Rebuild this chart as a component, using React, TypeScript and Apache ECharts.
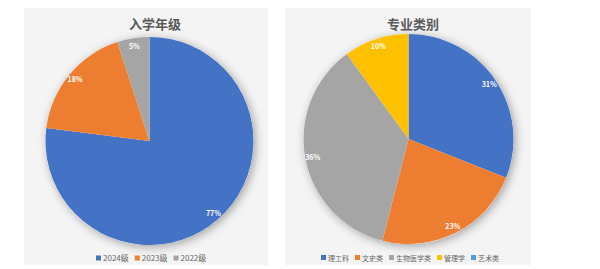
import React, { useEffect, useRef } from "react";
import * as echarts from "echarts";

const leftTitle = "入学年级";
const leftCategories = ["2024级", "2023级", "2022级"];
const leftValues = [77, 18, 5];

const rightTitle = "专业类别";
const rightCategories = ["理工科", "文史类", "生物医学类", "管理学", "艺术类"];
const rightValues = [31, 23, 36, 10, 0];

const palette = ["#4472c4", "#ed7d31", "#a5a5a5", "#ffc000", "#5b9bd5"];

const FONT = "'Noto Sans CJK SC', 'Noto Sans', sans-serif";

function pieSeries(cats: string[], vals: number[], center: number[], r: number) {
  const data = cats.map((name, i) => ({ name, value: vals[i], itemStyle: { color: palette[i] } }));
  const total = vals.reduce((a, b) => a + b, 0);
  return [
    {
      type: "pie",
      z: 1,
      silent: true,
      center,
      radius: r,
      label: { show: false },
      labelLine: { show: false },
      itemStyle: {
        color: "#ffffff",
        shadowBlur: 10,
        shadowColor: "rgba(0,0,0,0.35)",
        shadowOffsetX: 2,
        shadowOffsetY: 2,
      },
      data: [{ name: "__shadow", value: total }],
    },
    {
      type: "pie",
      z: 2,
      center,
      radius: r,
      startAngle: 90,
      clockwise: true,
      label: { show: false },
      labelLine: { show: false },
      itemStyle: { borderWidth: 0 },
      data,
    },
    {
      type: "pie",
      z: 3,
      silent: true,
      center,
      radius: [r * 0.8, r],
      startAngle: 90,
      clockwise: true,
      itemStyle: { color: "rgba(0,0,0,0)" },
      labelLine: { show: false },
      label: {
        show: true,
        position: "inside",
        color: "#ffffff",
        fontSize: 7,
        fontWeight: "bold",
        fontFamily: FONT,
        formatter: (p: any) => (p.value > 0 ? p.value + "%" : ""),
      },
      data: cats.map((name, i) => ({ name, value: vals[i] })),
    },
  ];
}

export default function App() {
  const ref = useRef<HTMLDivElement>(null);
  useEffect(() => {
    if (!ref.current) return;
    const chart = echarts.init(ref.current, undefined, { renderer: "svg" });
    chart.setOption({
      animation: false,
      backgroundColor: "#ffffff",
      graphic: [
        { type: "rect", z: -10, shape: { x: 24, y: 8, width: 244, height: 257 }, style: { fill: "#f4f4f4" } },
        { type: "rect", z: -10, shape: { x: 285, y: 8, width: 246, height: 257 }, style: { fill: "#f4f4f4" } },
      ],
      title: [
        {
          text: leftTitle,
          left: 150,
          top: 12,
          textAlign: "center",
          textStyle: { fontSize: 13, fontWeight: "bold", color: "#595959", fontFamily: FONT },
        },
        {
          text: rightTitle,
          left: 408,
          top: 12,
          textAlign: "center",
          textStyle: { fontSize: 13, fontWeight: "bold", color: "#595959", fontFamily: FONT },
        },
      ],
      legend: [
        {
          data: leftCategories,
          left: 96,
          top: 254,
          icon: "rect",
          itemWidth: 5,
          itemHeight: 5,
          itemGap: 6,
          padding: 0,
          textStyle: { fontSize: 8, color: "#666666", fontFamily: FONT, padding: [0, 0, 0, -3] },
        },
        {
          data: rightCategories,
          left: 321,
          top: 254,
          icon: "rect",
          itemWidth: 5,
          itemHeight: 5,
          itemGap: 6,
          padding: 0,
          textStyle: { fontSize: 7, color: "#666666", fontFamily: FONT, padding: [0, 0, 0, -3] },
        },
      ],
      series: [
        ...pieSeries(leftCategories, leftValues, [149.5, 141], 104),
        ...pieSeries(rightCategories, rightValues, [408.5, 139], 105),
      ],
    });
    return () => chart.dispose();
  }, []);
  return (
    <div
      ref={ref}
      style={{ position: "fixed", left: 0, top: 0, width: 600, height: 269 }}
    />
  );
}
